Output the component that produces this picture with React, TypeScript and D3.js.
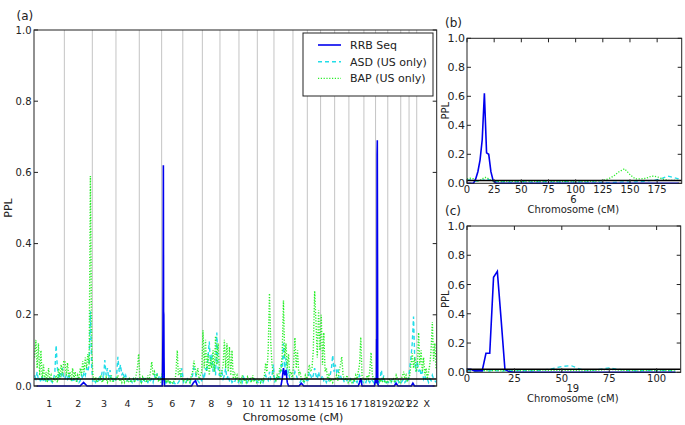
import React from 'react';
import * as d3 from 'd3';

const FONT = "'DejaVu Sans', sans-serif";
const TEXT = '#222';
const C_RRB = '#0000ee';
const C_ASD = '#22dde8';
const C_BAP = '#2aee2a';

const chromNames = ['1','2','3','4','5','6','7','8','9','10','11','12','13','14','15','16','17','18','19','20','21','22','X'];
const chromLengths = [281,259,219,216,207,196,181,163,176,170,154,176,133,123,130,132,139,108,113,120,77,71,185];
const yTicks = [0, 0.2, 0.4, 0.6, 0.8, 1.0];
const threshold = 0.02;
const seriesNames = ['RRB Seq', 'ASD (US only)', 'BAP (US only)'];

// Chromosome 6 detail (cM positions and PPL values)
const chr6Pos = [0,3,6,8,10,12,14,16,18,20,22,24,27,30,35,40,45,50,55,60,65,70,75,80,85,90,95,100,105,110,115,120,125,130,135,140,145,150,155,160,165,170,175,180,185,190,195];
const chr6RRB = [0,0,0,0.03,0.08,0.16,0.3,0.62,0.21,0.2,0.08,0.02,0,0,0,0,0,0,0,0,0,0,0,0,0,0,0,0,0,0,0,0,0,0,0,0,0,0,0,0,0,0,0,0,0,0,0];
const chr6ASD = [0.02,0.025,0.02,0.015,0.015,0.02,0.02,0.025,0.03,0.025,0.02,0.015,0.012,0.01,0.012,0.008,0.01,0.012,0.01,0.008,0.01,0.012,0.01,0.008,0.01,0.012,0.01,0.008,0.01,0.008,0.01,0.008,0.006,0.005,0.006,0.008,0.01,0.008,0.01,0.012,0.015,0.02,0.025,0.035,0.05,0.04,0.03];
const chr6BAP = [0.03,0.035,0.03,0.02,0.015,0.02,0.03,0.04,0.04,0.03,0.02,0.015,0.01,0.012,0.01,0.015,0.01,0.012,0.01,0.015,0.012,0.01,0.015,0.012,0.01,0.012,0.01,0.008,0.01,0.012,0.015,0.015,0.02,0.03,0.05,0.08,0.1,0.06,0.03,0.03,0.035,0.05,0.045,0.03,0.02,0.02,0.02];

// Chromosome 19 detail
const chr19Pos = [0,2,4,6,8,10,12,14,16,18,20,22,25,30,35,40,45,50,55,60,65,70,75,80,85,90,95,100,105,110];
const chr19RRB = [0.02,0.02,0.01,0.01,0.01,0.13,0.13,0.65,0.69,0.36,0.02,0.005,0,0,0,0,0,0,0,0,0,0,0,0,0,0,0,0,0,0];
const chr19ASD = [0.012,0.01,0.008,0.01,0.012,0.008,0.01,0.012,0.01,0.008,0.01,0.012,0.01,0.012,0.01,0.015,0.025,0.04,0.045,0.02,0.012,0.02,0.03,0.02,0.012,0.01,0.012,0.015,0.01,0.012];
const chr19BAP = [0.02,0.015,0.01,0.012,0.015,0.012,0.01,0.012,0.015,0.01,0.012,0.01,0.012,0.01,0.012,0.015,0.012,0.015,0.012,0.01,0.012,0.015,0.02,0.015,0.012,0.01,0.012,0.01,0.012,0.01];

// Genome-wide values per chromosome (evenly spaced along each chromosome)
const asdByChrom: number[][] = [
  [0.03,0.02,0.04,0.015,0.02,0.01,0.03,0.012,0.02,0.01,0.015,0.02,0.01,0.015,0.01,0.02,0.04,0.115,0.05,0.02,0.04,0.03,0.05,0.02],
  [0.02,0.03,0.02,0.035,0.015,0.02,0.01,0.02,0.015,0.01,0.02,0.01,0.015,0.03,0.02,0.04,0.03,0.05,0.04,0.06,0.21,0.05],
  [0.01,0.015,0.01,0.02,0.015,0.03,0.02,0.04,0.02,0.073,0.03,0.05,0.02,0.045,0.015,0.02,0.01,0.015],
  [0.03,0.082,0.04,0.06,0.03,0.04,0.02,0.03,0.015,0.02,0.01,0.015,0.01,0.02,0.01,0.015,0.02,0.01],
  [0.01,0.015,0.01,0.02,0.01,0.015,0.01,0.02,0.015,0.02,0.01,0.03,0.02,0.035,0.02,0.03,0.02],
  chr6ASD,
  [0.01,0.015,0.01,0.02,0.015,0.01,0.02,0.03,0.05,0.04,0.02,0.015,0.01,0.02,0.015],
  [0.03,0.02,0.05,0.04,0.08,0.125,0.06,0.09,0.04,0.06,0.03,0.15,0.05,0.03],
  [0.03,0.04,0.02,0.03,0.05,0.02,0.03,0.015,0.02,0.01,0.015,0.01,0.02,0.015,0.01],
  [0.015,0.02,0.01,0.025,0.015,0.02,0.01,0.015,0.02,0.01,0.015,0.02,0.01,0.015],
  [0.01,0.015,0.01,0.02,0.01,0.02,0.03,0.02,0.015,0.04,0.02,0.03,0.06],
  [0.01,0.02,0.015,0.03,0.02,0.06,0.04,0.12,0.05,0.08,0.03,0.04,0.02,0.015,0.02],
  [0.02,0.04,0.03,0.02,0.015,0.01,0.02,0.015,0.01,0.02,0.015],
  [0.015,0.04,0.03,0.02,0.03,0.05,0.03,0.02,0.04,0.02],
  [0.02,0.03,0.015,0.02,0.01,0.02,0.015,0.03,0.05,0.087,0.04],
  [0.06,0.04,0.05,0.02,0.03,0.015,0.02,0.01,0.02,0.015,0.01],
  [0.01,0.02,0.015,0.01,0.02,0.015,0.01,0.02,0.03,0.02,0.015,0.01],
  [0.015,0.01,0.02,0.015,0.01,0.02,0.015,0.01,0.02],
  chr19ASD,
  [0.01,0.015,0.01,0.02,0.015,0.01,0.015,0.02,0.01,0.015],
  [0.01,0.015,0.02,0.01,0.015,0.01,0.02],
  [0.05,0.08,0.12,0.195,0.07,0.04],
  [0.07,0.04,0.05,0.03,0.04,0.02,0.03,0.015,0.02,0.01,0.02,0.015,0.03,0.02,0.015,0.01],
];

const bapByChrom: number[][] = [
  [0.08,0.13,0.05,0.12,0.03,0.1,0.02,0.06,0.015,0.04,0.01,0.05,0.02,0.03,0.01,0.02,0.015,0.03,0.01,0.05,0.02,0.06,0.03,0.07],
  [0.07,0.03,0.065,0.02,0.04,0.015,0.05,0.02,0.04,0.01,0.03,0.02,0.05,0.03,0.07,0.04,0.08,0.05,0.09,0.06,0.59,0.1],
  [0.03,0.015,0.025,0.01,0.02,0.015,0.03,0.01,0.02,0.015,0.025,0.01,0.02,0.015,0.03,0.01,0.02,0.015],
  [0.02,0.03,0.015,0.02,0.01,0.025,0.01,0.02,0.015,0.01,0.02,0.01,0.015,0.02,0.01,0.03,0.05,0.09],
  [0.02,0.01,0.025,0.015,0.02,0.01,0.03,0.015,0.04,0.068,0.03,0.04,0.02,0.03,0.015,0.02,0.01],
  chr6BAP,
  [0.015,0.02,0.01,0.015,0.02,0.01,0.03,0.04,0.071,0.05,0.03,0.05,0.02,0.03,0.04],
  [0.157,0.05,0.13,0.04,0.09,0.03,0.08,0.05,0.1,0.04,0.14,0.06,0.12,0.05],
  [0.02,0.04,0.06,0.13,0.05,0.12,0.04,0.11,0.03,0.1,0.02,0.04,0.02,0.03,0.015],
  [0.02,0.01,0.03,0.015,0.02,0.01,0.025,0.015,0.02,0.01,0.03,0.015,0.02,0.01],
  [0.015,0.02,0.01,0.02,0.015,0.03,0.064,0.04,0.1,0.26,0.12,0.06,0.03],
  [0.02,0.015,0.03,0.02,0.05,0.04,0.09,0.24,0.08,0.12,0.05,0.09,0.03,0.04,0.02],
  [0.06,0.136,0.05,0.1,0.03,0.04,0.015,0.02,0.01,0.03,0.02],
  [0.03,0.06,0.04,0.05,0.1,0.267,0.18,0.08,0.213,0.1],
  [0.2,0.06,0.15,0.04,0.05,0.02,0.03,0.015,0.02,0.01,0.02],
  [0.02,0.03,0.015,0.04,0.06,0.082,0.03,0.02,0.015,0.03,0.01],
  [0.015,0.02,0.01,0.02,0.015,0.03,0.02,0.04,0.06,0.137,0.03,0.02],
  [0.02,0.015,0.03,0.02,0.04,0.094,0.03,0.02,0.015],
  chr19BAP,
  [0.015,0.02,0.01,0.015,0.02,0.01,0.03,0.02,0.015,0.01],
  [0.02,0.03,0.04,0.02,0.03,0.015,0.02],
  [0.03,0.06,0.092,0.05,0.08,0.04],
  [0.05,0.15,0.06,0.1,0.04,0.08,0.03,0.05,0.02,0.04,0.06,0.1,0.18,0.07,0.12,0.05],
];

const rrbByChrom: number[][] = [
  [0,0,0,0,0,0],
  [0,0,0,0,0,0.01,0,0],
  [0,0,0,0,0],
  [0,0,0,0,0],
  [0,0,0,0,0],
  chr6RRB,
  [0,0,0,0,0,0.01,0.015,0,0,0],
  [0,0,0,0,0],
  [0,0,0,0,0],
  [0,0,0,0,0],
  [0,0,0,0,0],
  [0,0,0,0,0,0,0.02,0.05,0.03,0.045,0.01,0,0,0,0],
  [0,0,0,0.008,0,0],
  [0,0,0,0,0],
  [0,0,0,0,0],
  [0,0,0,0,0],
  [0,0,0,0,0,0,0,0,0.01,0.022,0,0],
  [0,0,0,0,0],
  chr19RRB,
  [0,0,0,0,0.008,0,0],
  [0,0,0,0],
  [0,0,0.008,0,0],
  [0,0,0,0,0],
];

const chr6Ticks = [0,25,50,75,100,125,150,175];
const chr19Ticks = [0,25,50,75,100];

const offsets: number[] = [];
{
  let acc = 0;
  chromLengths.forEach((l) => { offsets.push(acc); acc += l; });
}
const totalCM = d3.sum(chromLengths);

function buildSeries(byChrom: number[][]): [number, number][] {
  const pts: [number, number][] = [];
  byChrom.forEach((vals, i) => {
    const detail = i === 5 ? chr6Pos : i === 18 ? chr19Pos : null;
    const len = chromLengths[i];
    vals.forEach((v, j) => {
      const p = detail ? detail[j] : ((j + 0.5) / vals.length) * len;
      pts.push([offsets[i] + p, v]);
    });
  });
  return pts;
}

const dashASD = '4,3';
const dashBAP = '1.2,1.6';

function Legend({ x, y }: { x: number; y: number }) {
  const rows = [
    { name: seriesNames[0], color: C_RRB, dash: undefined as string | undefined, w: 1.6 },
    { name: seriesNames[1], color: C_ASD, dash: dashASD, w: 1.4 },
    { name: seriesNames[2], color: C_BAP, dash: dashBAP, w: 1.4 },
  ];
  return (
    <g>
      <rect x={x} y={y} width={130} height={63} fill="#fff" stroke="#222" strokeWidth={1} />
      {rows.map((r, i) => (
        <g key={r.name}>
          <line x1={x + 15} x2={x + 38} y1={y + 12 + i * 16.7} y2={y + 12 + i * 16.7} stroke={r.color} strokeWidth={r.w} strokeDasharray={r.dash} />
          <text x={x + 47} y={y + 16 + i * 16.7} fontSize={11} fontFamily={FONT} fill={TEXT}>{r.name}</text>
        </g>
      ))}
    </g>
  );
}

function MainPanel() {
  const L = 34, R = 436.7, T = 30, B = 386;
  const x = d3.scaleLinear().domain([0, totalCM]).range([L, R]);
  const y = d3.scaleLinear().domain([0, 1]).range([B, T]);
  const line = d3.line<[number, number]>().x((d) => x(d[0])).y((d) => y(d[1]));
  const asd = buildSeries(asdByChrom);
  const bap = buildSeries(bapByChrom);
  const rrb = buildSeries(rrbByChrom);
  const bounds = offsets.slice(1);
  return (
    <g>
      <defs>
        <clipPath id="mainclip"><rect x={L} y={T} width={R - L} height={B - T + 2} /></clipPath>
      </defs>
      {bounds.map((b, i) => (
        <line key={i} x1={x(b)} x2={x(b)} y1={T} y2={B} stroke="#c4c4c4" strokeWidth={1} />
      ))}
      <g clipPath="url(#mainclip)">
        <path d={line(asd) || ''} fill="none" stroke={C_ASD} strokeWidth={1.4} strokeDasharray={dashASD} />
        <path d={line(bap) || ''} fill="none" stroke={C_BAP} strokeWidth={1.4} strokeDasharray={dashBAP} />
        <path d={line(rrb) || ''} fill="none" stroke={C_RRB} strokeWidth={1.6} />
        <line x1={L} x2={R} y1={y(threshold)} y2={y(threshold)} stroke="#000" strokeWidth={1.5} />
      </g>
      <rect x={L} y={T} width={R - L} height={B - T} fill="none" stroke="#222" strokeWidth={1} />
      {yTicks.map((t) => (
        <g key={t}>
          <line x1={L} x2={L + 4} y1={y(t)} y2={y(t)} stroke="#222" />
          <line x1={R} x2={R - 4} y1={y(t)} y2={y(t)} stroke="#222" />
          <text x={L - 2.5} y={y(t) + 3.6} textAnchor="end" fontSize={10} fontFamily={FONT} fill={TEXT}>{t.toFixed(1)}</text>
        </g>
      ))}
      {chromNames.map((n, i) => (
        <text key={n} x={x(offsets[i] + chromLengths[i] / 2)} y={406.5} textAnchor="middle" fontSize={9.5} fontFamily={FONT} fill={TEXT}>{n}</text>
      ))}
      <text x={293} y={421} textAnchor="middle" fontSize={11} fontFamily={FONT} fill={TEXT}>Chromosome (cM)</text>
      <text transform={`translate(12,${(T + B) / 2}) rotate(-90)`} textAnchor="middle" fontSize={11} fontFamily={FONT} fill={TEXT}>PPL</text>
      <text x={16.5} y={19.5} fontSize={12} fontFamily={FONT} fill={TEXT}>(a)</text>
      <Legend x={303} y={33} />
    </g>
  );
}

function DetailPanel(props: {
  id: string; label: string; chrom: string; L: number; R: number; T: number; B: number; xMax: number;
  pos: number[]; rrb: number[]; asd: number[]; bap: number[]; ticks: number[];
}) {
  const { id, label, chrom, L, R, T, B, xMax, pos, rrb, asd, bap, ticks } = props;
  const x = d3.scaleLinear().domain([0, xMax]).range([L, R]);
  const y = d3.scaleLinear().domain([0, 1]).range([B, T]);
  const mk = (vals: number[]) => vals.map((v, i) => [pos[i], v] as [number, number]);
  const line = d3.line<[number, number]>().x((d) => x(d[0])).y((d) => y(d[1]));
  return (
    <g>
      <defs>
        <clipPath id={id}><rect x={L} y={T} width={R - L} height={B - T + 2} /></clipPath>
      </defs>
      <g clipPath={`url(#${id})`}>
        <path d={line(mk(asd)) || ''} fill="none" stroke={C_ASD} strokeWidth={1.3} strokeDasharray={dashASD} />
        <path d={line(mk(bap)) || ''} fill="none" stroke={C_BAP} strokeWidth={1.3} strokeDasharray={dashBAP} />
        <path d={line(mk(rrb)) || ''} fill="none" stroke={C_RRB} strokeWidth={1.6} />
        <line x1={L} x2={R} y1={y(threshold)} y2={y(threshold)} stroke="#000" strokeWidth={1.5} />
      </g>
      <rect x={L} y={T} width={R - L} height={B - T} fill="none" stroke="#222" strokeWidth={1} />
      {yTicks.map((t) => (
        <g key={t}>
          <line x1={L} x2={L + 4} y1={y(t)} y2={y(t)} stroke="#222" />
          <line x1={R} x2={R - 4} y1={y(t)} y2={y(t)} stroke="#222" />
          <text x={L - 2} y={y(t) + 4} textAnchor="end" fontSize={11} fontFamily={FONT} fill={TEXT}>{t.toFixed(1)}</text>
        </g>
      ))}
      {ticks.map((t) => (
        <g key={t}>
          <line x1={x(t)} x2={x(t)} y1={B} y2={B - 4} stroke="#222" />
          <line x1={x(t)} x2={x(t)} y1={T} y2={T + 4} stroke="#222" />
          <text x={x(t)} y={B + 9.5} textAnchor="middle" fontSize={10} fontFamily={FONT} fill={TEXT}>{t}</text>
        </g>
      ))}
      <text x={(L + R) / 2 - 1} y={B + 19.5} textAnchor="middle" fontSize={10} fontFamily={FONT} fill={TEXT}>{chrom}</text>
      <text x={(L + R) / 2 - 1} y={B + 29.5} textAnchor="middle" fontSize={10} fontFamily={FONT} fill={TEXT}>Chromosome (cM)</text>
      <text transform={`translate(449,${(T + B) / 2}) rotate(-90)`} textAnchor="middle" fontSize={10} fontFamily={FONT} fill={TEXT}>PPL</text>
      <text x={445} y={T - 11} fontSize={12} fontFamily={FONT} fill={TEXT}>{label}</text>
    </g>
  );
}

export default function App() {
  return (
    <svg width={685} height={425} style={{ position: 'absolute', left: 0, top: 0, background: '#fff' }}>
      <rect width={685} height={425} fill="#fff" />
      <MainPanel />
      <DetailPanel id="clipb" label="(b)" chrom="6" L={467} R={681.7} T={38.3} B={183.3} xMax={197.6}
        pos={chr6Pos} rrb={chr6RRB} asd={chr6ASD} bap={chr6BAP} ticks={chr6Ticks} />
      <DetailPanel id="clipc" label="(c)" chrom="19" L={467} R={680.7} T={226} B={372.3} xMax={112.7}
        pos={chr19Pos} rrb={chr19RRB} asd={chr19ASD} bap={chr19BAP} ticks={chr19Ticks} />
    </svg>
  );
}
